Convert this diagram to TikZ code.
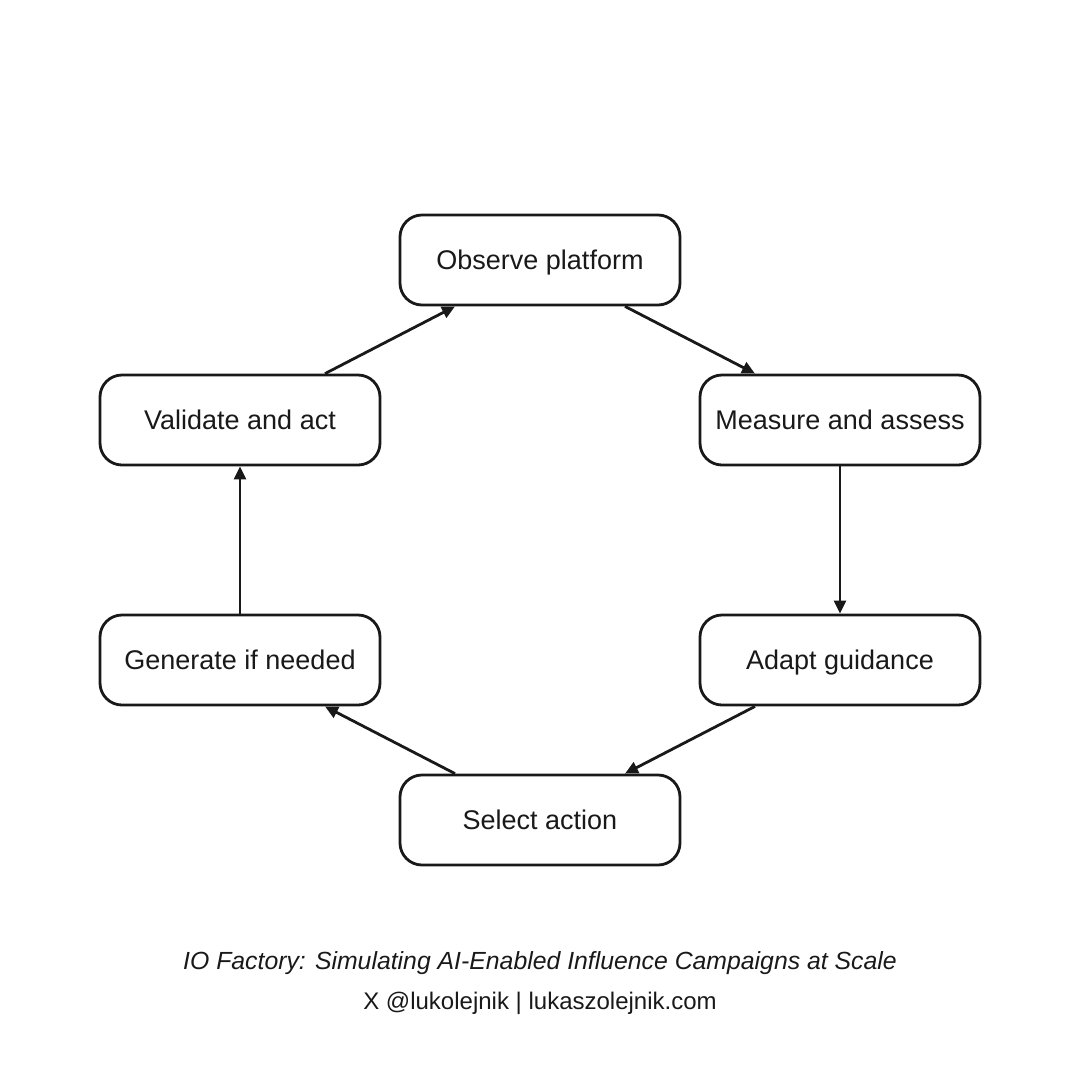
\documentclass[tikz,border=0pt]{standalone}
\usepackage{fontspec}
\setmainfont{Liberation Sans}
\usetikzlibrary{arrows.meta,calc}
\begin{document}
\begin{tikzpicture}[x=1pt,y=-1pt,
  stepbox/.style={draw=black!90,line width=2.8pt,rounded corners=22pt,minimum width=280pt,minimum height=90pt,inner sep=0pt,font=\fontsize{27}{32}\selectfont,text=black!90,text height=21pt,text depth=3pt},
  conn/.style={draw=black!90,line width=2.8pt,-{Triangle[length=13pt,width=12pt]}},
  lbl/.style={font=\fontsize{24}{28}\selectfont,text=black!90}]
\useasboundingbox (0,0) rectangle (1080,1080);
\node[stepbox] (obs) at (540,260) {Observe platform};
\node[stepbox] (mea) at (840,420) {Measure and assess};
\node[stepbox] (ada) at (840,660) {Adapt guidance};
\node[stepbox] (sel) at (540,820) {Select action};
\node[stepbox] (gen) at (240,660) {Generate if needed};
\node[stepbox] (val) at (240,420) {Validate and act};
\draw[conn] ($(obs.south)+(85,0)$) -- ($(mea.north)+(-85,0)$);
\draw[conn] (mea.south) -- (ada.north);
\draw[conn] ($(ada.south)+(-85,0)$) -- ($(sel.north)+(85,0)$);
\draw[conn] ($(sel.north)+(-85,0)$) -- ($(gen.south)+(85,0)$);
\draw[conn] (gen.north) -- (val.south);
\draw[conn] ($(val.north)+(85,0)$) -- ($(obs.south)+(-85,0)$);
\node[lbl,font=\fontsize{24.8}{28}\selectfont\itshape] (title) at (540,963) {IO Factory: Simulating AI-Enabled Influence Campaigns at Scale};
\node[lbl] (credit) at (540,1003) {X @lukolejnik | lukaszolejnik.com};
\end{tikzpicture}
\end{document}
